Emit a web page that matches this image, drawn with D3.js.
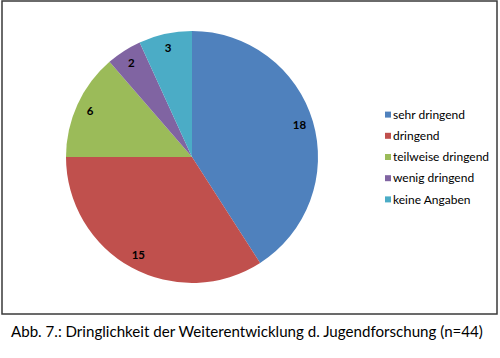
<!DOCTYPE html>
<html><head><meta charset="utf-8">
<script src="https://cdn.jsdelivr.net/npm/d3@7"></script>
<style>body{margin:0;background:#fff}svg{display:block}</style>
</head><body>
<svg id="c" width="500" height="358"></svg>
<script>
const categories = ["sehr dringend","dringend","teilweise dringend","wenig dringend","keine Angaben"];
const values = [18,15,6,2,3];
const colors = ["#4F81BD","#C0504D","#9BBB59","#8064A2","#4BACC6"];
const caption = "Abb. 7.: Dringlichkeit der Weiterentwicklung d. Jugendforschung (n=44)";

const svg = d3.select("#c");
const font = "Lato, 'Open Sans', sans-serif";
svg.append("rect").attr("x",2).attr("y",1).attr("width",495).attr("height",313)
  .attr("fill","#fff").attr("stroke","#3a3a3a").attr("stroke-width",1.5);

const cx=192, cy=157, r=126;
const pie = d3.pie().sort(null).value(d=>d)(values);
const arc = d3.arc().innerRadius(0).outerRadius(r);
const g = svg.append("g").attr("transform",`translate(${cx},${cy})`);
g.selectAll("path").data(pie).join("path").attr("d",arc).attr("fill",(d,i)=>colors[i]);
const lab = d3.arc().innerRadius(112).outerRadius(112);
g.selectAll("text").data(pie).join("text")
  .attr("transform",d=>`translate(${lab.centroid(d)})`)
  .attr("text-anchor","middle").attr("dy","0.35em")
  .attr("font-family",font).attr("font-weight","bold").attr("font-size",11.5).attr("fill","#000")
  .text(d=>d.data);

const leg = svg.append("g");
const ly = d3.scaleBand().domain(categories).range([104,210]);
categories.forEach((c,i)=>{
  const y = ly(c)+ly.bandwidth()/2;
  leg.append("rect").attr("x",385).attr("y",y-3).attr("width",6).attr("height",6).attr("fill",colors[i]);
  leg.append("text").attr("x",393).attr("y",y).attr("dy","0.35em")
    .attr("font-family",font).attr("font-size",12).attr("fill","#000").text(c);
});

const cap = svg.append("text").attr("x",11).attr("y",332).attr("dy","0.35em")
  .attr("font-family",font).attr("font-size",14).attr("fill","#000").text(caption);
const w = cap.node().getComputedTextLength();
cap.attr("font-size",14*472/w);
</script>
</body></html>
